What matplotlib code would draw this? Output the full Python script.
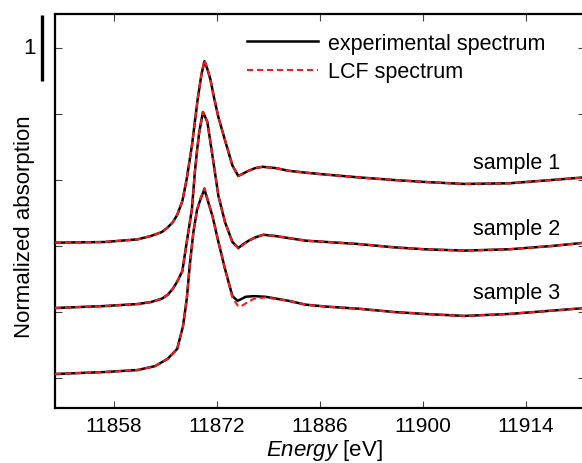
import matplotlib
matplotlib.use("Agg")
import matplotlib.pyplot as plt

plt.rcParams['font.family'] = ['Liberation Sans', 'DejaVu Sans']
plt.rcParams['mathtext.fontset'] = 'custom'
plt.rcParams['mathtext.it'] = 'Liberation Sans:italic'
plt.rcParams['mathtext.rm'] = 'Liberation Sans'

# ---- data (normalized absorption, samples offset by 1) ----
energy_s1 = [11850.0, 11856.7, 11861.2, 11863.0, 11864.5, 11865.3, 11866.0, 11866.6,
             11867.3, 11867.9, 11868.6, 11869.0, 11869.4, 11869.9, 11870.3, 11870.7,
             11871.1, 11871.6, 11872.2, 11873.1, 11874.1, 11874.9, 11875.6, 11876.3,
             11877.2, 11878.2, 11880.0, 11881.7, 11884.1, 11887.0, 11891.2, 11896.0,
             11900.2, 11905.6, 11911.7, 11917.5, 11922.0]
exp_s1 = [2.05, 2.06, 2.10, 2.15, 2.21, 2.28, 2.36, 2.47,
          2.68, 3.02, 3.52, 3.88, 4.24, 4.60, 4.80, 4.68,
          4.53, 4.25, 3.95, 3.60, 3.22, 3.06, 3.10, 3.14,
          3.18, 3.20, 3.18, 3.14, 3.11, 3.08, 3.04, 3.00,
          2.97, 2.94, 2.95, 3.00, 3.04]
lcf_s1 = [2.05, 2.06, 2.10, 2.15, 2.21, 2.28, 2.36, 2.47,
          2.68, 3.02, 3.52, 3.88, 4.24, 4.61, 4.82, 4.69,
          4.53, 4.25, 3.95, 3.60, 3.22, 3.06, 3.10, 3.14,
          3.18, 3.20, 3.18, 3.14, 3.11, 3.08, 3.04, 3.00,
          2.97, 2.94, 2.95, 3.00, 3.04]

energy_s2 = [11850.0, 11856.7, 11861.2, 11863.0, 11864.5, 11865.3, 11866.0, 11866.6,
             11867.3, 11867.9, 11868.6, 11869.0, 11869.3, 11869.6, 11870.1, 11870.7,
             11871.4, 11872.2, 11873.1, 11874.1, 11874.9, 11875.6, 11876.3, 11877.2,
             11878.3, 11880.0, 11881.7, 11884.1, 11887.0, 11891.2, 11896.0, 11900.2,
             11905.6, 11911.7, 11917.5, 11922.0]
exp_s2 = [1.06, 1.09, 1.12, 1.15, 1.20, 1.26, 1.35, 1.46,
          1.62, 2.06, 2.56, 3.12, 3.45, 3.73, 4.03, 3.88,
          3.36, 2.76, 2.36, 2.06, 1.97, 2.03, 2.08, 2.13,
          2.17, 2.15, 2.12, 2.08, 2.06, 2.03, 1.98, 1.95,
          1.93, 1.95, 2.00, 2.05]
lcf_s2 = [1.06, 1.09, 1.12, 1.15, 1.20, 1.26, 1.35, 1.46,
          1.62, 2.06, 2.56, 3.12, 3.45, 3.73, 4.03, 3.88,
          3.36, 2.76, 2.36, 2.06, 1.96, 2.02, 2.08, 2.13,
          2.17, 2.15, 2.12, 2.08, 2.06, 2.03, 1.98, 1.95,
          1.93, 1.95, 2.00, 2.05]

energy_s3 = [11850.0, 11856.7, 11861.2, 11863.6, 11865.3, 11866.6, 11867.4, 11867.9,
             11868.3, 11868.8, 11869.3, 11869.8, 11870.3, 11870.8, 11871.4, 11872.2,
             11873.1, 11874.1, 11874.8, 11875.2, 11875.9, 11877.0, 11878.6, 11881.7,
             11884.1, 11887.0, 11891.2, 11896.0, 11900.2, 11905.6, 11911.7, 11917.5,
             11922.0]
exp_s3 = [0.06, 0.09, 0.12, 0.18, 0.29, 0.44, 0.79, 1.20,
          1.70, 2.21, 2.55, 2.72, 2.86, 2.67, 2.45, 2.06,
          1.65, 1.24, 1.17, 1.19, 1.23, 1.24, 1.23, 1.17,
          1.11, 1.08, 1.05, 1.00, 0.97, 0.94, 0.97, 1.02,
          1.06]
lcf_s3 = [0.06, 0.09, 0.12, 0.18, 0.29, 0.44, 0.79, 1.20,
          1.70, 2.21, 2.55, 2.73, 2.88, 2.68, 2.45, 2.06,
          1.65, 1.22, 1.10, 1.08, 1.13, 1.20, 1.22, 1.17,
          1.11, 1.08, 1.05, 1.00, 0.97, 0.94, 0.97, 1.02,
          1.06]

sample_labels = ["sample 1", "sample 2", "sample 3"]
label_y = [3.26, 2.26, 1.29]
x_ticks = [11858, 11872, 11886, 11900, 11914]
y_ticks = [0, 1, 2, 3, 4, 5]

# ---- figure ----
W, H = 582, 464
fig = plt.figure(figsize=(W / 100, H / 100), dpi=100)
ax = fig.add_axes([55 / W, 1 - 409 / H, (585 - 55) / W, (409 - 15) / H])

for e, ex, lc in [(energy_s1, exp_s1, lcf_s1), (energy_s2, exp_s2, lcf_s2),
                  (energy_s3, exp_s3, lcf_s3)]:
    ax.plot(e, ex, color='black', lw=1.8, solid_joinstyle='round', zorder=2)
    ax.plot(e, lc, color='#ff1a1a', lw=1.5, linestyle=(0, (3, 1.8)), zorder=3)

ax.set_xlim(11850, 11922)
ax.set_ylim(-0.455, 5.515)
ax.set_xticks(x_ticks)
ax.set_xticklabels([str(t) for t in x_ticks], fontsize=15)
ax.set_yticks(y_ticks)
ax.set_yticklabels([])
ax.tick_params(direction='in', length=5, width=0.8, color='#444444',
               top=True, right=True, pad=6)
for s in ax.spines.values():
    s.set_linewidth(1.6)

for lab, yy in zip(sample_labels, label_y):
    ax.text(11918.6, yy, lab, ha='right', va='center', fontsize=15.5)

# legend built from dummy handles of the same styles
h1, = ax.plot([], [], color='black', lw=1.8)
h2, = ax.plot([], [], color='#ff1a1a', lw=1.5, linestyle=(0, (3, 1.8)))
ax.legend([h1, h2], ["experimental spectrum", "LCF spectrum"],
          loc='upper left', bbox_to_anchor=((247 - 55) / 530, (409 - 34) / 394),
          frameon=False, fontsize=15.5, handlelength=3.3, handletextpad=0.45,
          borderpad=0, borderaxespad=0, labelspacing=0.34)

# scale bar of 1 unit, left of the axes
ax.plot([11850 - 13 / 7.32] * 2, [4.5, 5.5], color='black', lw=2.4,
        clip_on=False, solid_capstyle='butt')
fig.text(29 / W, 1 - 48 / H, "1", ha='center', va='center', fontsize=16)

fig.text(25 / W, 1 - 227 / H, "Normalized absorption", rotation=90,
         ha='center', va='center', fontsize=16)
fig.text(324 / W, 1 - 451 / H, r"$\it{Energy}$ [eV]", ha='center', va='center',
         fontsize=16)

fig.savefig("out.png", dpi=100)
